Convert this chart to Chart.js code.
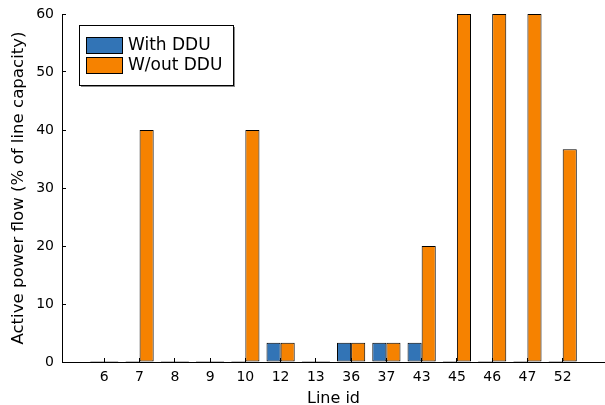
<!DOCTYPE html>
<html>
<head>
<meta charset="utf-8">
<script src="https://cdn.jsdelivr.net/npm/chart.js@4"></script>
<style>
  html, body { margin: 0; padding: 0; background: #fff; }
  #wrap { width: 605px; height: 405px; }
</style>
</head>
<body>
<div id="wrap"><canvas id="BarChart" width="605" height="405"></canvas></div>
<script>
// values
const lineIds = ["6", "7", "8", "9", "10", "12", "13", "36", "37", "43", "45", "46", "47", "52"];
const withDDU = [0, 0, 0, 0, 0, 3.33, 0, 3.33, 3.33, 3.33, 0, 0, 0, 0];
const withoutDDU = [0, 40, 0, 0, 40, 3.33, 0, 3.33, 3.33, 20, 60, 60, 60, 36.67];
const seriesNames = ["With DDU", "W/out DDU"];
const yTicks = [0, 10, 20, 30, 40, 50, 60];

const blue = "#3274b6";
const orange = "#f68200";
const font = "'DejaVu Sans', sans-serif";

// legend box drawn inside the plot, top left
const insideLegend = {
    id: "insideLegend",
    afterDraw(chart) {
        const ctx = chart.ctx;
        const ca = chart.chartArea;
        const x = ca.left + 17, y = ca.top + 11, w = 154, h = 60;
        ctx.save();
        ctx.fillStyle = "#8a8a8a";
        ctx.fillRect(x + 2, y + 2, w, h);
        ctx.fillStyle = "#fff";
        ctx.fillRect(x, y, w, h);
        ctx.strokeStyle = "#000";
        ctx.lineWidth = 1;
        ctx.strokeRect(x + 0.5, y + 0.5, w, h);
        ctx.font = "17px " + font;
        ctx.textBaseline = "middle";
        chart.data.datasets.forEach((ds, i) => {
            const by = y + 12 + i * 20;
            ctx.fillStyle = ds.backgroundColor;
            ctx.fillRect(x + 7, by, 36, 16);
            ctx.strokeStyle = "#000";
            ctx.strokeRect(x + 7.5, by + 0.5, 36, 16);
            ctx.fillStyle = "#000";
            ctx.fillText(ds.label, x + 49, by + 9);
        });
        ctx.restore();
    }
};

const config = {
    type: "bar",
    data: {
        datasets: [{
            label: seriesNames[0],
            data: withDDU.map((v, i) => ({ x: i, y: v })),
            backgroundColor: blue,
            borderColor: "#000",
            borderWidth: 1,
            borderSkipped: false,
            minBarLength: 1
        }, {
            label: seriesNames[1],
            data: withoutDDU.map((v, i) => ({ x: i, y: v })),
            backgroundColor: orange,
            borderColor: "#000",
            borderWidth: 1,
            borderSkipped: false,
            minBarLength: 1
        }]
    },
    options: {
        responsive: false,
        animation: false,
        categoryPercentage: 0.8,
        barPercentage: 1,
        layout: { padding: { top: 14, right: 0, left: 0, bottom: 0 } },
        plugins: {
            legend: { display: false },
            tooltip: { enabled: false }
        },
        scales: {
            x: {
                type: "linear",
                offset: false,
                bounds: "data",
                min: -1.2,
                max: lineIds.length - 1 + 1.2,
                afterBuildTicks: s => { s.ticks = lineIds.map((_, i) => ({ value: i })); },
                afterFit: s => { s.height = 43; s.paddingLeft = 0; s.paddingRight = 0; },
                ticks: {
                    autoSkip: false,
                    maxRotation: 0,
                    padding: 11,
                    color: "#000",
                    font: { family: font, size: 14 },
                    callback: v => lineIds[v]
                },
                grid: { offset: false, drawOnChartArea: false, tickLength: -4, color: "#000" },
                border: { color: "#000", width: 1 },
                title: {
                    display: true,
                    text: "Line id",
                    color: "#000",
                    font: { family: font, size: 16 },
                    padding: { top: 0, bottom: -3 }
                }
            },
            y: {
                min: 0,
                max: 60,
                afterBuildTicks: s => { s.ticks = yTicks.map(v => ({ value: v })); },
                afterFit: s => { s.width = 62; s.paddingTop = 0; s.paddingBottom = 0; },
                ticks: {
                    padding: 12,
                    color: "#000",
                    font: { family: font, size: 14 }
                },
                grid: { drawOnChartArea: false, tickLength: -4, color: "#000" },
                border: { color: "#000", width: 1 },
                title: {
                    display: true,
                    text: "Active power flow (% of line capacity)",
                    color: "#000",
                    font: { family: font, size: 16.6 },
                    padding: { top: 9, bottom: 0 }
                }
            }
        }
    },
    plugins: [insideLegend]
};

new Chart(document.getElementById("BarChart"), config);
</script>
</body>
</html>
